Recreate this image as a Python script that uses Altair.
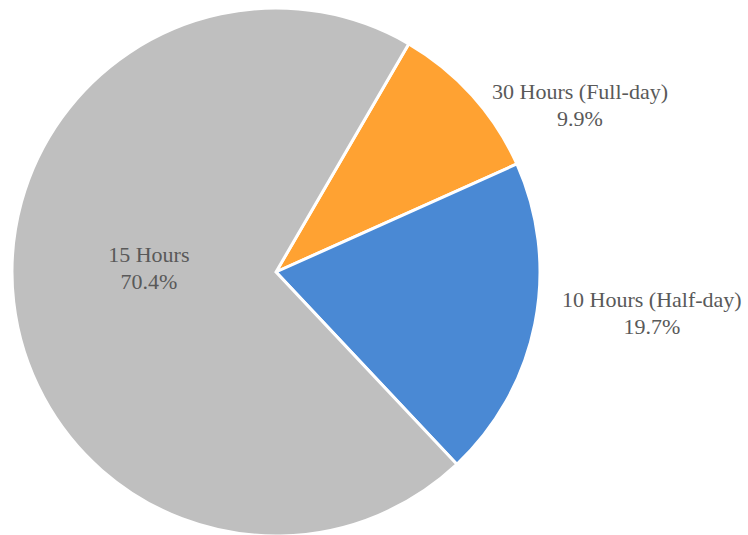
import altair as alt
import pandas as pd
import math

categories = ["30 Hours (Full-day)", "10 Hours (Half-day)", "15 Hours"]
shares = [9.9, 19.7, 70.4]
colors = ["#FFA232", "#4A89D4", "#BFBFBF"]

df = pd.DataFrame({"category": categories, "share": shares, "order": [0, 1, 2]})
df["label"] = df["category"] + "\n" + df["share"].map(lambda v: f"{v:.1f}%")

start = math.radians(30.2)
theta_scale = alt.Scale(domain=[0, 100], range=[start, start + 2 * math.pi])
color_scale = alt.Scale(domain=categories, range=colors)

CX, CY, R = 276, 272, 264

pie = alt.Chart(df).mark_arc(stroke="white", strokeWidth=3, outerRadius=R).encode(
    theta=alt.Theta("share:Q", stack=True, scale=theta_scale),
    order=alt.Order("order:Q"),
    color=alt.Color("category:N", scale=color_scale, legend=None),
    x=alt.value(CX), y=alt.value(CY),
)

label_base = alt.Chart(df).transform_window(
    cum="sum(share)", sort=[alt.SortField("order")]
).transform_calculate(mid="datum.cum - datum.share / 2")

def label_layer(cat, radius, dx, dy):
    return label_base.transform_filter(alt.datum.category == cat).mark_text(
        lineBreak="\n", font="Liberation Serif", fontSize=22, color="#595959",
        align="center", baseline="middle", lineHeight=27, radius=radius, dx=dx, dy=dy,
    ).encode(
        theta=alt.Theta("mid:Q", stack=None, scale=theta_scale),
        text="label:N", x=alt.value(CX), y=alt.value(CY),
    )

labels = [
    label_layer("15 Hours", 128, 0, -32),
    label_layer("30 Hours (Full-day)", 300, 81, 21),
    label_layer("10 Hours (Half-day)", 370, 13, -45),
]

chart = alt.layer(pie, *labels).properties(
    width=748, height=535, autosize=alt.AutoSizeParams(type="none"), padding=0
).configure_view(stroke=None)

chart.save("out.html", embed_options={"renderer": "svg", "actions": False})
